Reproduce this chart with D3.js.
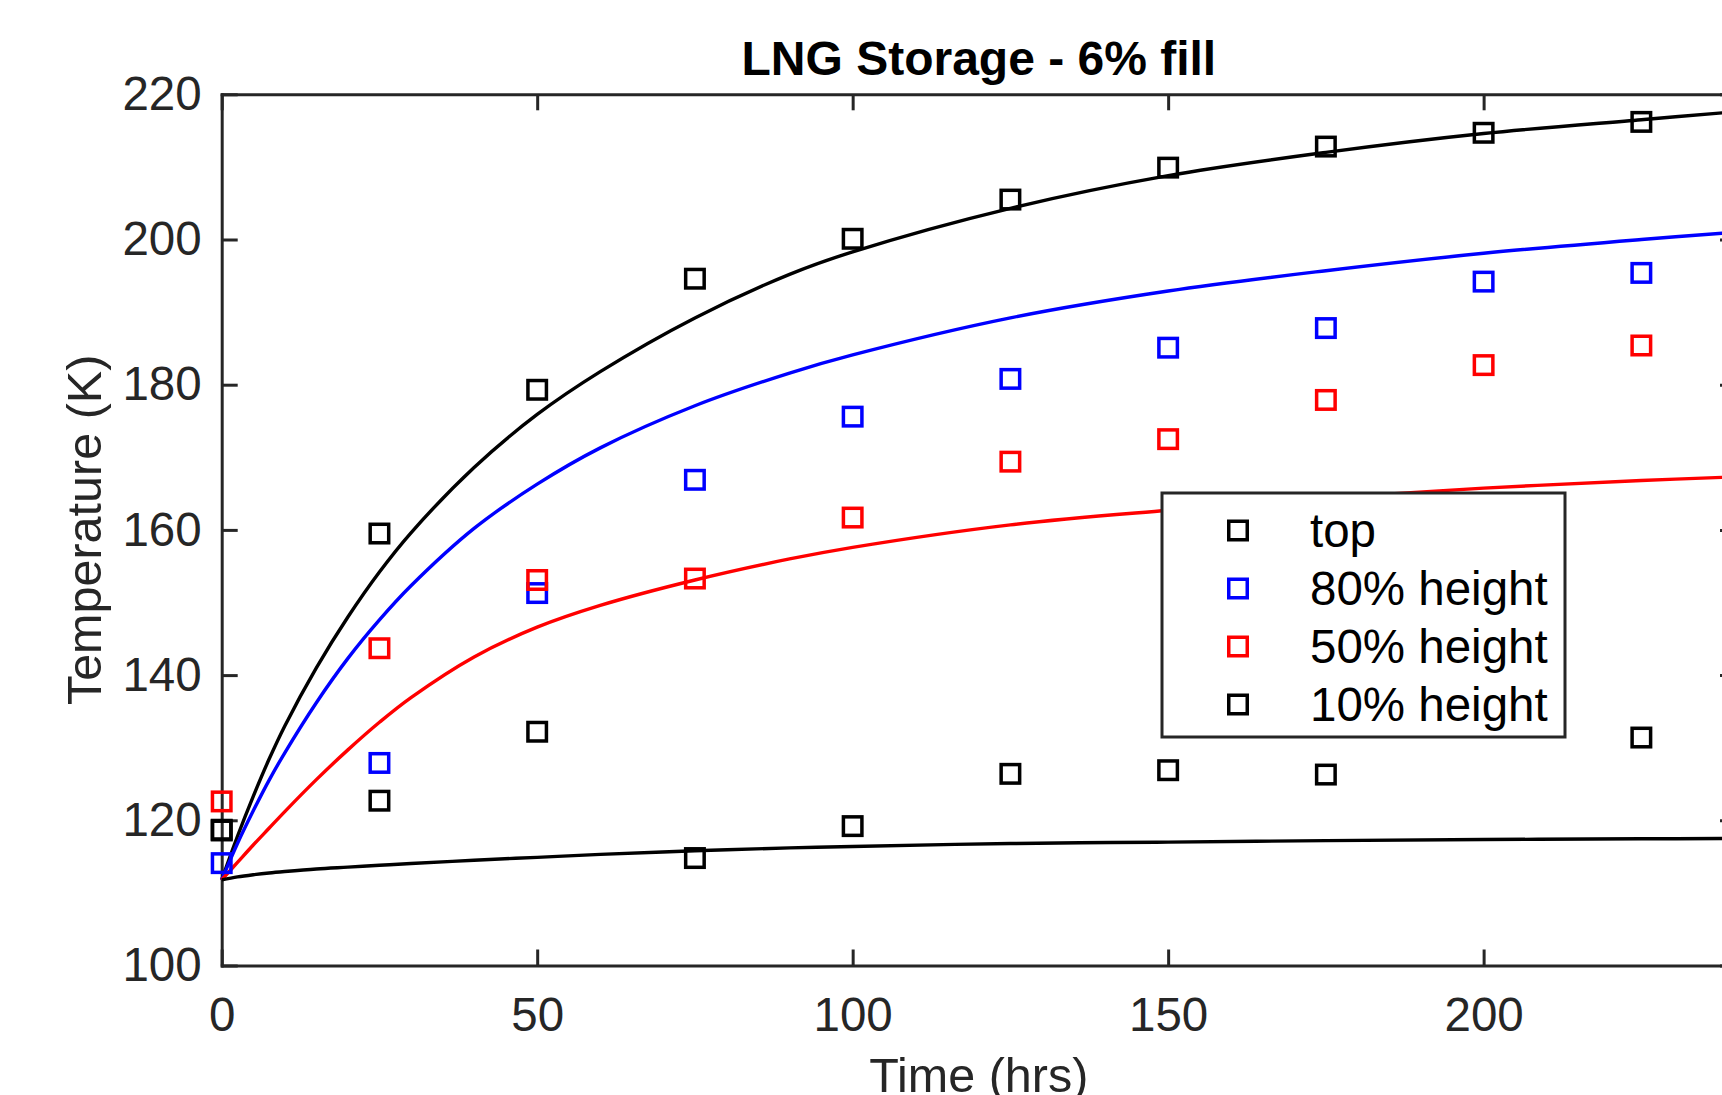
<!DOCTYPE html>
<html>
<head>
<meta charset="utf-8">
<script src="https://cdn.jsdelivr.net/npm/d3@7"></script>
<style>
  body { margin: 0; background: #fff; }
  svg { display: block; font-family: "Liberation Sans", Arial, Helvetica, sans-serif; }
</style>
</head>
<body>
<div id="chart"></div>
<script>
// measured points (hrs) and temperatures (K)
var sampleTimes = [0, 25, 50, 75, 100, 125, 150, 175, 200, 225];
var topPts    = [118.7, 159.5, 179.3, 194.6, 200.1, 205.5, 209.9, 212.8, 214.7, 216.2];
var h80Pts    = [114.1, 127.9, 151.3, 166.9, 175.6, 180.8, 185.1, 187.8, 194.2, 195.4];
var h50Pts    = [122.6, 143.7, 153.1, 153.3, 161.7, 169.4, 172.5, 177.9, 182.7, 185.4];
var h10Pts    = [118.6, 122.7, 132.2, 114.8, 119.2, 126.4, 126.9, 126.3, 134.0, 131.4];

// model curves
var curveTimes = [0, 2.5, 5, 7.5, 10, 15, 20, 25, 30, 40, 50, 60, 75, 90, 100, 125, 150, 175, 200, 225, 240];
var topCurve = [111.8, 117.8, 123.3, 128.4, 133.0, 141.0, 148.0, 154.2, 159.6, 168.6, 175.9, 181.8, 189.2, 195.2, 198.3, 204.3, 208.8, 212.0, 214.6, 216.5, 217.6];
var h80Curve = [111.8, 116.8, 121.3, 125.5, 129.3, 136.2, 142.3, 147.6, 152.3, 160.2, 166.3, 171.3, 177.1, 181.6, 184.1, 189.2, 192.9, 195.7, 198.1, 200.0, 201.0];
var h50Curve = [111.8, 114.2, 116.6, 118.9, 121.2, 125.6, 129.7, 133.5, 136.9, 142.5, 146.6, 149.6, 153.1, 156.0, 157.6, 160.7, 162.7, 164.4, 165.75, 166.8, 167.3];
var h10Curve = [111.8, 112.2, 112.5, 112.75, 112.95, 113.3, 113.55, 113.8, 114.05, 114.5, 114.9, 115.3, 115.8, 116.2, 116.4, 116.8, 117.0, 117.2, 117.35, 117.45, 117.5];

var xTicks = [0, 50, 100, 150, 200];
var yTicks = [100, 120, 140, 160, 180, 200, 220];
var legendLabels = ["top", "80% height", "50% height", "10% height"];
var seriesColors = ["#000000", "#0000ff", "#ff0000", "#000000"];

var svgWidth = 1722, svgHeight = 1095;
var plot = {left: 221.7, right: 1736, top: 94.3, bottom: 965.5};
var axisColor = "#262626";

var svg = d3.select("#chart").append("svg")
  .attr("width", svgWidth)
  .attr("height", svgHeight);

svg.append("rect").attr("width", svgWidth).attr("height", svgHeight).attr("fill", "#fff");

var x = d3.scaleLinear().domain([0, 240]).range([plot.left, plot.right]);
var y = d3.scaleLinear().domain([100, 220]).range([plot.bottom, plot.top]);

// axes (box with inward ticks, like matlab)
function styleAxis(g) {
  g.select(".domain").attr("stroke", axisColor).attr("stroke-width", 3).attr("stroke-linecap", "square");
  g.selectAll(".tick line").attr("stroke", axisColor).attr("stroke-width", 3);
  g.selectAll(".tick text").attr("fill", axisColor).style("font-size", "47.5px");
}

svg.append("g")
  .attr("transform", "translate(0," + plot.bottom + ")")
  .call(d3.axisBottom(x).tickValues(xTicks).tickSizeInner(-16).tickSizeOuter(0).tickPadding(32))
  .call(styleAxis);

svg.append("g")
  .attr("transform", "translate(0," + plot.top + ")")
  .call(d3.axisTop(x).tickValues(xTicks).tickSizeInner(-16).tickSizeOuter(0).tickFormat(""))
  .call(styleAxis);

svg.append("g")
  .attr("transform", "translate(" + plot.left + ",0)")
  .call(d3.axisLeft(y).tickValues(yTicks).tickSizeInner(-16).tickSizeOuter(0).tickPadding(20))
  .call(styleAxis);

svg.append("g")
  .attr("transform", "translate(" + plot.right + ",0)")
  .call(d3.axisRight(y).tickValues(yTicks).tickSizeInner(-16).tickSizeOuter(0).tickFormat(""))
  .call(styleAxis);

// curves
var line = d3.line()
  .x(function(d) { return x(d[0]); })
  .y(function(d) { return y(d[1]); })
  .curve(d3.curveCatmullRom.alpha(0.5));

var curves = [topCurve, h80Curve, h50Curve, h10Curve];
curves.forEach(function(c, i) {
  svg.append("path")
    .datum(curveTimes.map(function(t, j) { return [t, c[j]]; }))
    .attr("fill", "none")
    .attr("stroke", seriesColors[i])
    .attr("stroke-width", 3.4)
    .attr("d", line);
});

// square markers
var markerSize = 18.5;
var pts = [topPts, h80Pts, h50Pts, h10Pts];
pts.forEach(function(p, i) {
  svg.append("g").selectAll("rect")
    .data(sampleTimes.map(function(t, j) { return [t, p[j]]; }))
    .join("rect")
      .attr("x", function(d) { return x(d[0]) - markerSize / 2; })
      .attr("y", function(d) { return y(d[1]) - markerSize / 2; })
      .attr("width", markerSize)
      .attr("height", markerSize)
      .attr("fill", "none")
      .attr("stroke", seriesColors[i])
      .attr("stroke-width", 3.5);
});

// legend
var legend = svg.append("g").attr("transform", "translate(1162,493)");
legend.append("rect")
  .attr("width", 403).attr("height", 244)
  .attr("fill", "#fff")
  .attr("stroke", axisColor)
  .attr("stroke-width", 3);

legendLabels.forEach(function(lab, i) {
  var cy = 37.5 + i * 58;
  legend.append("rect")
    .attr("x", 76 - markerSize / 2).attr("y", cy - markerSize / 2)
    .attr("width", markerSize).attr("height", markerSize)
    .attr("fill", "none")
    .attr("stroke", seriesColors[i])
    .attr("stroke-width", 3.5);
  legend.append("text")
    .attr("x", 148).attr("y", cy)
    .attr("dy", "0.35em")
    .style("font-size", "47.5px")
    .attr("fill", "#000")
    .text(lab);
});

// title and labels
svg.append("text")
  .attr("x", (plot.left + plot.right) / 2).attr("y", 74.7)
  .attr("text-anchor", "middle")
  .style("font-size", "48px").style("font-weight", "bold")
  .attr("fill", "#000")
  .text("LNG Storage - 6% fill");

svg.append("text")
  .attr("x", (plot.left + plot.right) / 2).attr("y", 1092)
  .attr("text-anchor", "middle")
  .style("font-size", "48.5px")
  .attr("fill", axisColor)
  .text("Time (hrs)");

svg.append("text")
  .attr("transform", "translate(101," + (plot.top + plot.bottom) / 2 + ") rotate(-90)")
  .attr("text-anchor", "middle")
  .style("font-size", "48.5px")
  .attr("fill", axisColor)
  .text("Temperature (K)");
</script>
</body>
</html>
